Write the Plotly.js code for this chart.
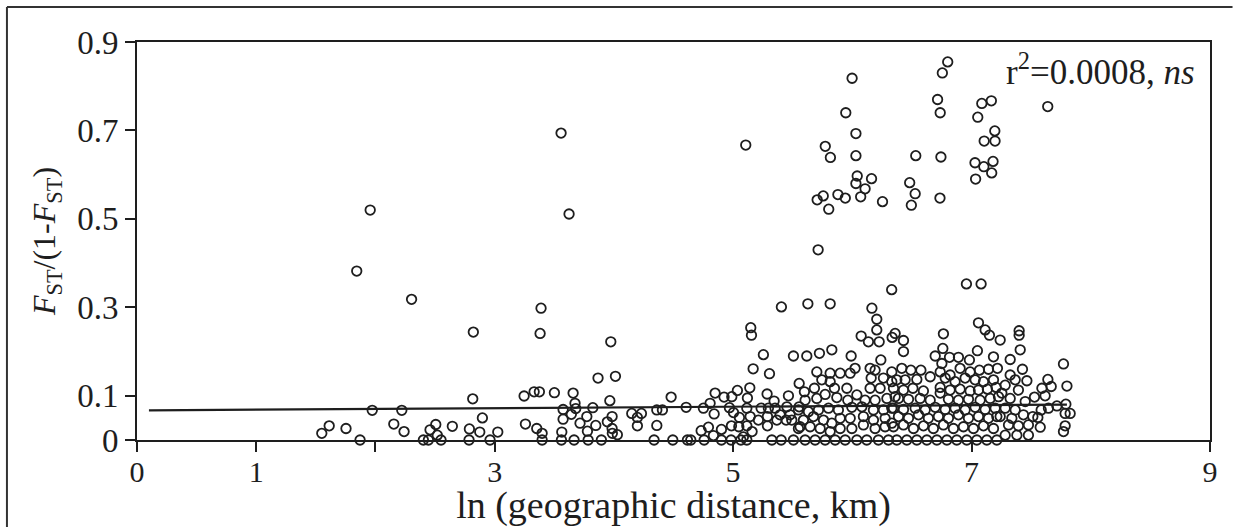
<!DOCTYPE html>
<html>
<head>
<meta charset="utf-8">
<script src="https://cdn.plot.ly/plotly-3.0.1.min.js"></script>
<style>
  html, body { margin: 0; padding: 0; background: #ffffff; overflow: hidden; }
  #chart { width: 1233px; height: 527px; overflow: hidden; }
</style>
</head>
<body>
<div id="chart"></div>
<script>
// Pairwise population comparisons: [ln(geographic distance, km), FST/(1-FST)]
const pairsUnder3 = [
  [1.956,0.520],[1.843,0.382],[2.303,0.318],[1.550,0.015],[1.612,0.032],[1.753,0.026],
  [1.871,0],[1.973,0.067],[2.154,0.036],[2.240,0.019],[2.221,0.067],[2.402,0],
  [2.444,0],[2.458,0.023],[2.506,0.035],[2.519,0.011],[2.550,0],[2.645,0.031],
  [2.788,0.025],[2.785,0],[2.875,0.018],[2.897,0.050],[2.961,0],[3.026,0.018],
  [3.258,0.036],[2.821,0.244],[2.816,0.093],[3.247,0.0995]
];

const pairs3to47 = [
  [3.389,0.298],[3.381,0.241],[3.974,0.222],[3.867,0.140],[4.013,0.144],[3.331,0.109],
  [3.375,0.109],[3.501,0.107],[3.658,0.106],[3.674,0.083],[3.574,0.069],[3.643,0.058],
  [3.680,0.071],[3.574,0.047],[3.773,0.053],[3.823,0.073],[3.716,0.038],[3.848,0.033],
  [3.778,0.020],[3.563,0.018],[3.966,0.089],[3.985,0.053],[3.945,0.041],[3.985,0.026],
  [3.987,0.015],[4.029,0.012],[4.150,0.060],[4.197,0.051],[4.231,0.060],[4.197,0.032],
  [4.360,0.068],[4.407,0.068],[4.360,0.033],[4.480,0.097],[4.606,0.074],[3.353,0.026],
  [3.398,0.015],[3.398,0],[3.560,0],[3.666,0],[3.784,0],[3.895,0],[4.337,0],[4.494,0],
  [4.617,0],[3.557,0.694],[3.624,0.511]
];

const pairs47to55 = [
  [5.405,0.301],[5.148,0.254],[5.154,0.237],[5.254,0.193],[5.506,0.190],[5.168,0.161],
  [5.305,0.150],[5.554,0.128],[4.849,0.106],[4.924,0.097],[4.989,0.098],[5.036,0.112],
  [5.120,0.095],[5.140,0.118],[5.285,0.104],[5.344,0.088],[5.464,0.100],[4.807,0.083],
  [4.751,0.072],[4.841,0.059],[4.969,0.073],[5.003,0.062],[5.053,0.051],[5.115,0.072],
  [5.143,0.053],[5.212,0.045],[5.235,0.072],[5.296,0.072],[5.288,0.032],[5.352,0.072],
  [5.367,0.045],[5.445,0.045],[5.478,0.057],[5.554,0.075],[4.732,0.021],[4.793,0.029],
  [4.835,0.010],[4.902,0.024],[4.986,0.032],[5.048,0.030],[5.115,0.032],[5.159,0.019],
  [5.086,0.007],[4.645,0],[4.757,0],[4.902,0],[4.983,0],[5.065,0],[5.115,0],[5.325,0],
  [5.403,0],[5.506,0],[5.562,0.030],[5.288,0.053],[5.394,0.057],[5.451,0.075],[5.106,0.667]
];

const pairs55to64 = [
  [5.627,0.308],[5.814,0.308],[6.164,0.298],[6.205,0.273],[6.205,0.249],[6.074,0.235],
  [6.135,0.222],[6.225,0.222],[6.359,0.241],[5.618,0.190],[5.724,0.196],[5.828,0.204],
  [5.990,0.190],[6.239,0.181],[6.023,0.162],[5.702,0.154],[5.814,0.151],[5.898,0.151],
  [5.982,0.151],[6.149,0.162],[6.191,0.158],[6.331,0.154],[6.158,0.140],[6.261,0.140],
  [5.744,0.136],[5.814,0.132],[5.850,0.117],[5.954,0.117],[6.038,0.102],[6.149,0.117],
  [6.233,0.117],[6.331,0.132],[5.598,0.109],[5.682,0.117],[5.772,0.103],[5.870,0.096],
  [5.604,0.090],[5.702,0.094],[5.962,0.090],[6.107,0.090],[6.191,0.090],[6.290,0.094],
  [6.359,0.098],
  [5.548,0.068],[5.632,0.064],[5.716,0.068],[5.800,0.072],[5.883,0.068],[5.996,0.074],
  [6.080,0.075],[6.177,0.068],[6.261,0.068],[6.331,0.072],
  [5.492,0.045],[5.590,0.045],[5.674,0.053],[5.758,0.045],[5.828,0.038],[5.898,0.049],
  [5.982,0.049],[6.093,0.053],[6.177,0.045],[6.275,0.049],
  [5.548,0.026],[5.646,0.030],[5.730,0.026],[5.814,0.019],[5.898,0.026],[5.996,0.026],
  [6.093,0.034],[6.191,0.026],[6.275,0.030],[6.331,0.038],
  [5.604,0],[5.688,0],[5.772,0],[5.856,0],[5.940,0],[6.038,0],[6.121,0],[6.219,0],[6.303,0],
  [5.998,0.818],[5.945,0.740],[6.030,0.693],[5.773,0.664],[5.816,0.639],[6.030,0.643],
  [6.041,0.597],[6.161,0.591],[6.030,0.580],[6.107,0.568],[6.070,0.550],[5.705,0.543],
  [5.756,0.552],[5.802,0.522],[5.879,0.555],[5.941,0.547],[6.253,0.539],[5.713,0.430],
  [6.330,0.340]
];

const pairs64to72 = [
  [7.058,0.265],[7.114,0.249],[7.150,0.237],[6.334,0.232],[6.429,0.225],[6.429,0.200],
  [6.764,0.240],[6.759,0.207],[6.695,0.190],[6.815,0.187],[6.890,0.187],[6.982,0.181],
  [7.049,0.202],[7.184,0.188],[7.240,0.226],[6.751,0.173],[6.415,0.162],[6.491,0.158],
  [6.575,0.158],[6.653,0.143],[6.737,0.154],[6.820,0.147],[6.904,0.162],[6.988,0.154],
  [7.066,0.158],[7.142,0.160],[7.217,0.162],[6.373,0.136],[6.443,0.136],[6.541,0.137],
  [6.779,0.140],[6.862,0.132],[6.946,0.140],[7.030,0.136],[7.100,0.132],[7.184,0.136],
  [6.345,0.117],[6.429,0.113],[6.508,0.117],[6.596,0.111],[6.737,0.119],[6.737,0.106],
  [6.820,0.113],[6.904,0.115],[6.988,0.111],[7.058,0.113],[7.133,0.115],[7.206,0.119],
  [6.387,0.094],[6.471,0.092],[6.569,0.094],[6.653,0.090],[6.806,0.092],[6.890,0.090],
  [6.974,0.092],[7.072,0.090],[7.156,0.094],[7.226,0.098],
  [6.345,0.072],[6.429,0.069],[6.527,0.072],[6.611,0.068],[6.695,0.074],[6.779,0.069],
  [6.862,0.072],[6.946,0.068],[7.030,0.074],[7.114,0.069],[7.198,0.072],
  [6.387,0.053],[6.471,0.049],[6.555,0.057],[6.638,0.049],[6.722,0.053],[6.806,0.049],
  [6.890,0.057],[6.974,0.049],[7.058,0.053],[7.142,0.049],[7.212,0.053],
  [6.345,0.030],[6.429,0.034],[6.513,0.026],[6.597,0.032],[6.680,0.026],[6.764,0.034],
  [6.848,0.026],[6.932,0.030],[7.016,0.026],[7.100,0.032],[7.184,0.026],
  [6.373,0],[6.457,0],[6.541,0],[6.625,0],[6.709,0],[6.793,0],[6.876,0],[6.960,0],
  [7.044,0],[7.128,0],[7.212,0],
  [6.800,0.855],[6.755,0.830],[6.715,0.770],[6.737,0.740],[7.166,0.767],[7.086,0.761],
  [7.052,0.730],[6.532,0.643],[6.743,0.640],[7.195,0.699],[7.106,0.676],[7.197,0.676],
  [7.029,0.627],[7.103,0.618],[7.180,0.630],[7.169,0.604],[7.034,0.590],[6.481,0.582],
  [6.527,0.557],[6.495,0.531],[6.735,0.547],[6.957,0.353],[7.080,0.353]
];

const pairsOver72 = [
  [7.399,0.247],[7.399,0.237],[7.408,0.204],[7.324,0.182],[7.771,0.172],[7.324,0.147],
  [7.427,0.160],[7.464,0.134],[7.366,0.136],[7.640,0.137],[7.668,0.121],[7.590,0.117],
  [7.800,0.122],[7.282,0.124],[7.254,0.106],[7.393,0.113],[7.528,0.097],[7.617,0.100],
  [7.324,0.094],[7.450,0.087],[7.716,0.077],[7.791,0.081],[7.645,0.072],[7.785,0.060],
  [7.827,0.060],[7.584,0.068],[7.556,0.051],[7.514,0.053],[7.435,0.057],[7.366,0.068],
  [7.282,0.072],[7.240,0.053],[7.338,0.049],[7.576,0.029],[7.477,0.034],[7.393,0.032],
  [7.310,0.034],[7.785,0.032],[7.771,0.019],[7.380,0.011],[7.477,0.011],[7.282,0.011],
  [7.639,0.754]
];

// Least-squares fit endpoints (r² = 0.0008)
const fitX = [0.1, 7.8];
const fitY = [0.067, 0.080];

const xTickVals = [0, 1, 3, 5, 7, 9];
const xTickText = ['0', '1', '3', '5', '7', '9'];
const xMinorTicks = [2];
const yTickVals = [0, 0.1, 0.3, 0.5, 0.7, 0.9];
const yTickText = ['0', '0.1', '0.3', '0.5', '0.7', '0.9'];

const ink = '#1e1e1e';
const serif = '"Liberation Serif", "Times New Roman", Times, serif';

const allPairs = [].concat(pairsUnder3, pairs3to47, pairs47to55, pairs55to64, pairs64to72, pairsOver72);

const points = {
  type: 'scatter',
  mode: 'markers',
  x: allPairs.map(p => p[0]),
  y: allPairs.map(p => p[1]),
  marker: { symbol: 'circle-open', size: 9.5, color: ink, line: { width: 1.8, color: ink } },
  cliponaxis: false,
  hoverinfo: 'skip'
};

const fit = {
  type: 'scatter',
  mode: 'lines',
  x: fitX,
  y: fitY,
  line: { color: ink, width: 2.2 },
  hoverinfo: 'skip'
};

const axisCommon = {
  ticks: 'outside',
  ticklen: 10,
  tickwidth: 2,
  tickcolor: ink,
  showline: true,
  linewidth: 2,
  linecolor: ink,
  mirror: true,
  showgrid: false,
  zeroline: false,
  tickfont: { family: serif, size: 33, color: ink }
};

// Outer figure border: left and top edges (the others fall outside the page)
const frameLeft = -0.1212, frameTop = 1.0879, frameBottom = -0.22, frameRight = 1.021;

const layout = {
  width: 1233,
  height: 527,
  margin: { l: 137, r: 23, t: 42, b: 87, pad: 0 },
  paper_bgcolor: '#ffffff',
  plot_bgcolor: '#ffffff',
  showlegend: false,
  font: { family: serif, color: ink, size: 33 },
  xaxis: Object.assign({}, axisCommon, {
    range: [0, 9],
    tickvals: xTickVals,
    ticktext: xTickText,
    tickfont: { family: serif, size: 30, color: ink },
    ticklabelstandoff: -6,
    minor: { tickvals: xMinorTicks, ticks: 'outside', ticklen: 10, tickwidth: 2, tickcolor: ink, showgrid: false },
    title: { text: 'ln (geographic distance, km)', font: { family: serif, size: 38, color: ink }, standoff: 4 }
  }),
  yaxis: Object.assign({}, axisCommon, {
    range: [0, 0.9],
    tickvals: yTickVals,
    ticktext: yTickText,
    title: { text: '<i>F</i><sub>ST</sub>/(1-<i>F</i><sub>ST</sub>)', font: { family: serif, size: 32, color: ink }, standoff: 12 }
  }),
  annotations: [{
    xref: 'paper', yref: 'paper',
    x: 0.988, y: 0.93,
    xanchor: 'right', yanchor: 'middle',
    text: 'r<sup>2</sup>=0.0008, <i>ns</i>',
    showarrow: false,
    font: { family: serif, size: 35, color: ink }
  }],
  shapes: [
    { type: 'line', xref: 'paper', yref: 'paper', x0: frameLeft, x1: frameLeft, y0: frameBottom, y1: frameTop,
      line: { color: '#333333', width: 2 }, layer: 'below' },
    { type: 'line', xref: 'paper', yref: 'paper', x0: frameLeft, x1: frameRight, y0: frameTop, y1: frameTop,
      line: { color: '#333333', width: 2 }, layer: 'below' }
  ]
};

Plotly.newPlot('chart', [fit, points], layout, { displayModeBar: false, staticPlot: true });
</script>
</body>
</html>
